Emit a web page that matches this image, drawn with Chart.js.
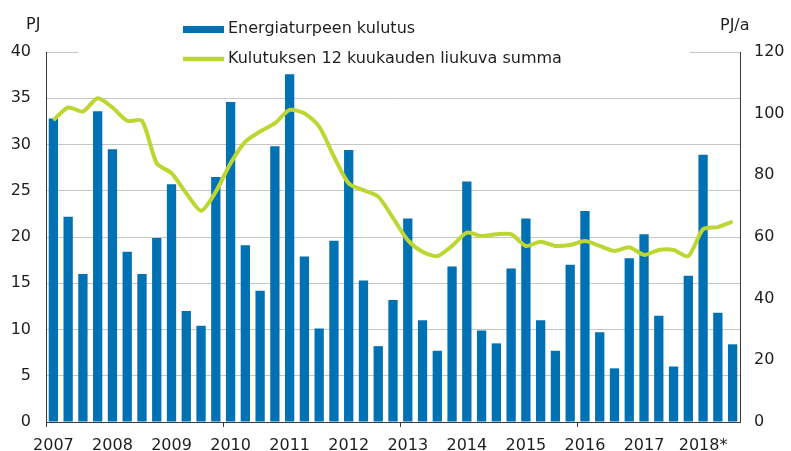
<!DOCTYPE html>
<html>
<head>
<meta charset="utf-8">
<script src="https://cdn.jsdelivr.net/npm/chart.js@4"></script>
<style>
  html, body { margin: 0; padding: 0; background: #fff; }
  #wrap { position: relative; width: 791px; height: 451px; }
</style>
</head>
<body>
<div id="wrap"><canvas id="peatChart"></canvas></div>
<script>
// --- Data (quarterly, 2007 Q1 .. 2018 Q3) ---
const years = ['2007', '2008', '2009', '2010', '2011', '2012', '2013', '2014', '2015', '2016', '2017', '2018*'];

// Energiaturpeen kulutus, PJ per quarter
const consumption = [
  32.8, 22.2, 16.0, 33.6,  29.5, 18.4, 16.0, 19.9,  25.7, 12.0, 10.4, 26.5,
  34.6, 19.1, 14.2, 29.8,  37.6, 17.9, 10.1, 19.6,  29.4, 15.3, 8.2, 13.2,
  22.0, 11.0, 7.7, 16.8,   26.0, 9.9, 8.5, 16.6,    22.0, 11.0, 7.7, 17.0,
  22.8, 9.7, 5.8, 17.7,    20.3, 11.5, 6.0, 15.8,   28.9, 11.8, 8.4
];

// Kulutuksen 12 kuukauden liukuva summa, PJ/a
const movingSum = [
  97.9, 102.0, 100.7, 105.0,  102.0, 97.7, 97.7, 83.9,  80.7, 74.2, 68.5, 74.7,
  83.9, 90.9, 94.2, 96.9,     101.2, 100.1, 95.8, 86.1,  77.4, 75.2, 73.1, 66.2,
  59.0, 55.2, 53.8, 57.1,     61.4, 60.3, 60.9, 60.9,    57.1, 58.5, 57.1, 57.4,
  58.7, 57.1, 55.5, 56.7,     54.2, 55.8, 55.8, 53.8,    62.5, 63.2, 65.0
];

const legendLabels = ['Energiaturpeen kulutus', 'Kulutuksen 12 kuukauden liukuva summa'];

// Colours
const COLORS = {
  bar: '#0071b3',
  line: '#bdd632',
  grid: '#c6c6c6',
  axis: '#3a3a3a',
  text: '#1e1e1e'
};

// quarter categories, e.g. "2007 Q1"
const quarters = [];
years.forEach(y => { for (let q = 1; q <= 4; q++) quarters.push(y + ' Q' + q); });
const categories = quarters.slice(0, consumption.length);

Chart.defaults.font.family = "'DejaVu Sans', sans-serif";
Chart.defaults.font.size = 16;
Chart.defaults.color = COLORS.text;

// Legend and unit labels, drawn on top (legend box hides the top gridline like the original)
const overlayText = {
  id: 'overlayText',
  afterDraw(chart) {
    const ctx = chart.ctx;
    ctx.save();
    ctx.fillStyle = '#fff';
    ctx.fillRect(78, 47, 612, 9);

    ctx.font = "16px 'DejaVu Sans', sans-serif";
    ctx.textBaseline = 'middle';
    ctx.textAlign = 'left';
    ctx.fillStyle = COLORS.text;
    ctx.fillText('PJ', 26, 25);
    ctx.fillText('PJ/a', 720, 26);

    // bar entry
    ctx.fillStyle = COLORS.bar;
    ctx.fillRect(183, 26, 41, 7);
    ctx.fillStyle = COLORS.text;
    ctx.fillText(legendLabels[0], 228, 29);

    // line entry
    ctx.strokeStyle = COLORS.line;
    ctx.lineWidth = 4.5;
    ctx.beginPath();
    ctx.moveTo(183, 59);
    ctx.lineTo(224, 59);
    ctx.stroke();
    ctx.fillText(legendLabels[1], 228, 59);
    ctx.restore();
  }
};

new Chart(document.getElementById('peatChart'), {
  type: 'bar',
  data: {
    labels: categories,
    datasets: [
      {
        type: 'line',
        label: legendLabels[1],
        data: movingSum,
        yAxisID: 'y1',
        borderColor: COLORS.line,
        borderWidth: 4,
        pointRadius: 0,
        tension: 0.25,
        fill: false,
        order: 1
      },
      {
        type: 'bar',
        label: legendLabels[0],
        data: consumption,
        yAxisID: 'y',
        backgroundColor: COLORS.bar,
        barPercentage: 0.63,
        categoryPercentage: 1,
        order: 2
      }
    ]
  },
  options: {
    responsive: true,
    maintainAspectRatio: false,
    animation: false,
    layout: { padding: { top: 52, left: 0, right: 0, bottom: 0 } },
    plugins: {
      legend: { display: false },
      tooltip: { enabled: false }
    },
    scales: {
      x: {
        offset: true,
        grid: {
          offset: true,
          drawOnChartArea: false,
          drawTicks: true,
          tickLength: 5,
          color: (c) => (c.index % 12 === 0 ? COLORS.axis : 'transparent')
        },
        border: { display: true, color: COLORS.axis, width: 1 },
        ticks: {
          autoSkip: false,
          maxRotation: 0,
          padding: 9,
          callback: (v, i) => (i % 4 === 0 ? years[i / 4] : '')
        },
        afterFit: (s) => { s.height = 29; }
      },
      y: {
        position: 'left',
        min: 0,
        max: 40,
        ticks: { stepSize: 5, padding: 15 },
        grid: { color: COLORS.grid, drawTicks: false },
        border: { display: true, color: COLORS.axis, width: 1 },
        afterFit: (s) => { s.width = 46; }
      },
      y1: {
        position: 'right',
        min: 0,
        max: 120,
        ticks: { stepSize: 20, padding: 14 },
        grid: { drawOnChartArea: false, drawTicks: false },
        border: { display: true, color: COLORS.axis, width: 1 },
        afterFit: (s) => { s.width = 51; }
      }
    }
  },
  plugins: [overlayText]
});
</script>
</body>
</html>
